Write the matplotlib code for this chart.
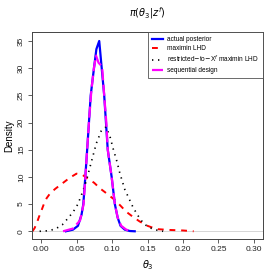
import matplotlib
matplotlib.use("Agg")
import matplotlib.pyplot as plt
import numpy as np

plt.rcParams['font.family'] = ['Liberation Sans', 'DejaVu Sans']

# actual posterior
post_x = [0.035, 0.045, 0.052, 0.057, 0.0596, 0.0624, 0.065, 0.0675, 0.070, 0.0746, 0.078, 0.082,
          0.0855, 0.089, 0.0915, 0.094, 0.0995, 0.104, 0.108, 0.112, 0.118, 0.125, 0.132]
post_y = [0, 0.3, 1, 3, 5, 10, 15, 20, 25, 30, 33.5, 35, 30, 25, 20, 15, 10, 5, 2.5, 1, 0.3, 0.05, 0]

# maximin LHD
lhd_x = [-0.012, -0.009, -0.006, -0.003, 0.0, 0.004, 0.008, 0.013, 0.02, 0.03, 0.04, 0.05, 0.058,
         0.066, 0.075, 0.083, 0.093, 0.104, 0.112, 0.12, 0.13, 0.139, 0.15, 0.163, 0.18, 0.2, 0.215]
lhd_y = [0, 0.6, 1.5, 2.6, 3.6, 5.0, 6.1, 7.0, 7.8, 8.8, 9.8, 10.6, 10.4, 9.7, 8.9, 7.9, 6.9, 5.75,
         4.7, 3.6, 2.6, 1.8, 1.0, 0.4, 0.25, 0.15, 0]

# restricted-to-X^f maximin LHD
res_x = [-0.002, 0.01, 0.02, 0.03, 0.036, 0.045, 0.052, 0.057, 0.062, 0.0667, 0.072, 0.078, 0.085,
         0.0915, 0.097, 0.102, 0.107, 0.111, 0.118, 0.124, 0.130, 0.137, 0.144, 0.151, 0.158, 0.165, 0.172]
res_y = [0, 0.1, 0.4, 1.2, 2.1, 3.5, 5.0, 6.7, 8.5, 10.7, 13.3, 16.2, 18.5, 19.2, 17.5, 15, 12.8,
         10.7, 7.7, 6.0, 4.3, 2.8, 1.5, 0.8, 0.4, 0.15, 0]

# sequential design
seq_x = [0.031, 0.045, 0.055, 0.06, 0.0625, 0.065, 0.068, 0.071, 0.0745, 0.0775, 0.081, 0.086,
         0.089, 0.092, 0.094, 0.0995, 0.104, 0.108, 0.113, 0.12, 0.128]
seq_y = [0, 0.5, 2, 5, 10, 15, 21, 26, 30, 32.3, 31, 30.3, 25, 20, 15, 10, 5, 2.5, 1, 0.3, 0]

xticks = [0.00, 0.05, 0.10, 0.15, 0.20, 0.25, 0.30]
yticks = [0, 5, 10, 15, 20, 25, 30, 35]

fig = plt.figure(figsize=(2.8, 2.8), dpi=100)
ax = fig.add_axes([32/280, 1 - 239/280, 231/280, 207/280])

ax.axhline(0, color='#d0d0d0', lw=0.6, zorder=0)
ax.plot(post_x, post_y, color='blue', lw=1.6, label='actual posterior')
ax.plot(lhd_x, lhd_y, color='red', lw=1.4, dashes=(3, 3), label='maximin LHD')
ax.plot(res_x, res_y, color='black', lw=1.2, dashes=(0.8, 2.8), label=r'restricted$-$to$-$X$^f$ maximin LHD')
ax.plot(seq_x, seq_y, color='magenta', lw=1.6, dashes=(5, 2), label='sequential design')

ax.set_xlim(-0.0127, 0.3127)
ax.set_ylim(-1.42, 36.65)
ax.set_xticks(xticks)
ax.set_xticklabels(['%.2f' % v for v in xticks])
ax.set_yticks(yticks)
ax.set_yticklabels([str(v) for v in yticks], rotation=90, va='center')
ax.tick_params(labelsize=6, length=3, width=0.6, color='#444444', labelcolor='#222222', pad=2)
for s in ax.spines.values():
    s.set_linewidth(0.7)
    s.set_color('#444444')

ax.set_xlabel(r'$\theta_3$', fontsize=7, labelpad=4)
ax.set_ylabel('Density', fontsize=7, labelpad=3)
ax.set_title(r'$\pi(\theta_3|z^f)$', fontsize=7, pad=11)

leg = ax.legend(loc='upper right', fontsize=4.7, frameon=True, fancybox=False, borderaxespad=0,
                handlelength=1.8, labelspacing=0.3, borderpad=0.6, handletextpad=0.6)
leg.get_frame().set_edgecolor('#444444')
leg.get_frame().set_linewidth(0.7)

fig.savefig('out.png', dpi=100)
